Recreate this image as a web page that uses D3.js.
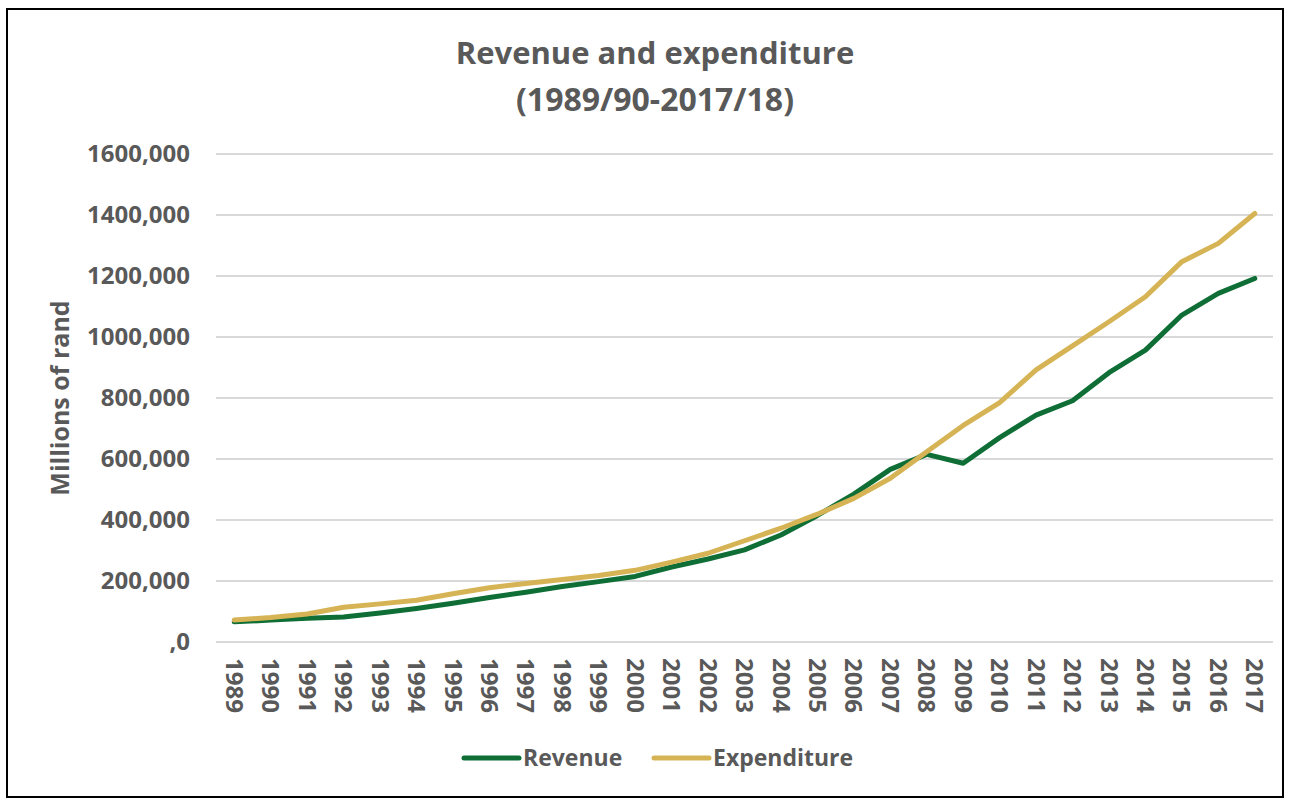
<!DOCTYPE html>
<html>
<head>
<meta charset="utf-8">
<script src="https://cdn.jsdelivr.net/npm/d3@7"></script>
<style>
  body { margin: 0; background: #fff; }
  text { font-family: "Open Sans", sans-serif; font-weight: bold; fill: #595959; }
</style>
</head>
<body>
<svg id="plot" width="1290" height="800"></svg>
<script>
// chart data (millions of rand)
var years = [1989, 1990, 1991, 1992, 1993, 1994, 1995, 1996, 1997, 1998,
  1999, 2000, 2001, 2002, 2003, 2004, 2005, 2006, 2007, 2008,
  2009, 2010, 2011, 2012, 2013, 2014, 2015, 2016, 2017];
var revenue = [66, 72, 78, 82, 95, 110, 127, 146, 163, 182,
  198, 215, 246, 272, 302, 351, 415, 485, 566, 615,
  586, 670, 744, 791, 883, 957, 1072, 1143, 1192];
var expenditure = [72, 80, 92, 114, 125, 137, 158, 178, 192, 205,
  218, 235, 262, 291, 332, 373, 419, 471, 537, 624,
  710, 785, 892, 971, 1050, 1132, 1247, 1307, 1405];
var yTicks = [0, 200, 400, 600, 800, 1000, 1200, 1400, 1600];
var seriesNames = ['Revenue', 'Expenditure'];
var seriesColors = ['#0e6e35', '#d6b455'];

var svg = d3.select('#plot');
var plotLeft = 216, plotRight = 1273, plotTop = 154, plotBottom = 642;

// outer border
svg.append('rect')
  .attr('x', 7).attr('y', 9)
  .attr('width', 1276).attr('height', 788)
  .attr('fill', 'none')
  .attr('stroke', '#000')
  .attr('stroke-width', 2);

// title
svg.append('text')
  .attr('x', 655).attr('y', 64)
  .attr('text-anchor', 'middle')
  .style('font-size', '31px')
  .text('Revenue and expenditure');
svg.append('text')
  .attr('x', 655).attr('y', 111)
  .attr('text-anchor', 'middle')
  .style('font-size', '32px')
  .text('(1989/90-2017/18)');

var xScale = d3.scaleBand()
  .domain(years)
  .range([plotLeft, plotRight]);
var yScale = d3.scaleLinear()
  .domain([0, 1600])
  .range([plotBottom, plotTop]);

// gridlines
svg.append('g')
  .selectAll('line')
  .data(yTicks)
  .enter()
  .append('line')
  .attr('x1', plotLeft).attr('x2', plotRight)
  .attr('y1', function (d) { return yScale(d); })
  .attr('y2', function (d) { return yScale(d); })
  .attr('stroke', '#d9d9d9')
  .attr('stroke-width', 2);

// y axis labels (Excel-style "200,000" / ",0")
var fmtY = function (d) { return d === 0 ? ',0' : d + ',000'; };
var yAxis = d3.axisLeft(yScale).tickValues(yTicks).tickFormat(fmtY).tickSize(0).tickPadding(0);
var yG = svg.append('g')
  .attr('transform', 'translate(190,0)')
  .call(yAxis);
yG.select('.domain').remove();
yG.selectAll('text')
  .style('font-size', '24px')
  .style('font-family', '"Open Sans", sans-serif')
  .attr('fill', '#595959');

// x axis labels, rotated
var xAxis = d3.axisBottom(xScale).tickSize(0).tickPadding(0);
var xG = svg.append('g')
  .attr('transform', 'translate(0,' + (plotBottom + 16) + ')')
  .call(xAxis);
xG.select('.domain').remove();
xG.selectAll('text')
  .attr('transform', 'rotate(90)')
  .attr('x', 0).attr('y', 0)
  .attr('dy', '0.35em')
  .attr('text-anchor', 'start')
  .style('font-size', '24px')
  .style('font-family', '"Open Sans", sans-serif')
  .attr('fill', '#595959');

// y axis title
svg.append('text')
  .attr('transform', 'translate(69,398) rotate(-90)')
  .attr('text-anchor', 'middle')
  .style('font-size', '25px')
  .text('Millions of rand');

// lines
var line = d3.line()
  .x(function (d, i) { return xScale(years[i]) + xScale.bandwidth() / 2; })
  .y(function (d) { return yScale(d); });

[revenue, expenditure].forEach(function (vals, k) {
  svg.append('path')
    .datum(vals)
    .attr('d', line)
    .attr('fill', 'none')
    .attr('stroke', seriesColors[k])
    .attr('stroke-width', 5)
    .attr('stroke-linejoin', 'round')
    .attr('stroke-linecap', 'round');
});

// legend
var legendX = [464, 654];
seriesNames.forEach(function (name, k) {
  var g = svg.append('g').attr('transform', 'translate(' + legendX[k] + ',758)');
  g.append('line')
    .attr('x1', 0).attr('x2', 55)
    .attr('stroke', seriesColors[k])
    .attr('stroke-width', 5)
    .attr('stroke-linecap', 'round');
  g.append('text')
    .attr('x', 59).attr('y', 8)
    .style('font-size', '23px')
    .text(name);
});
</script>
</body>
</html>
